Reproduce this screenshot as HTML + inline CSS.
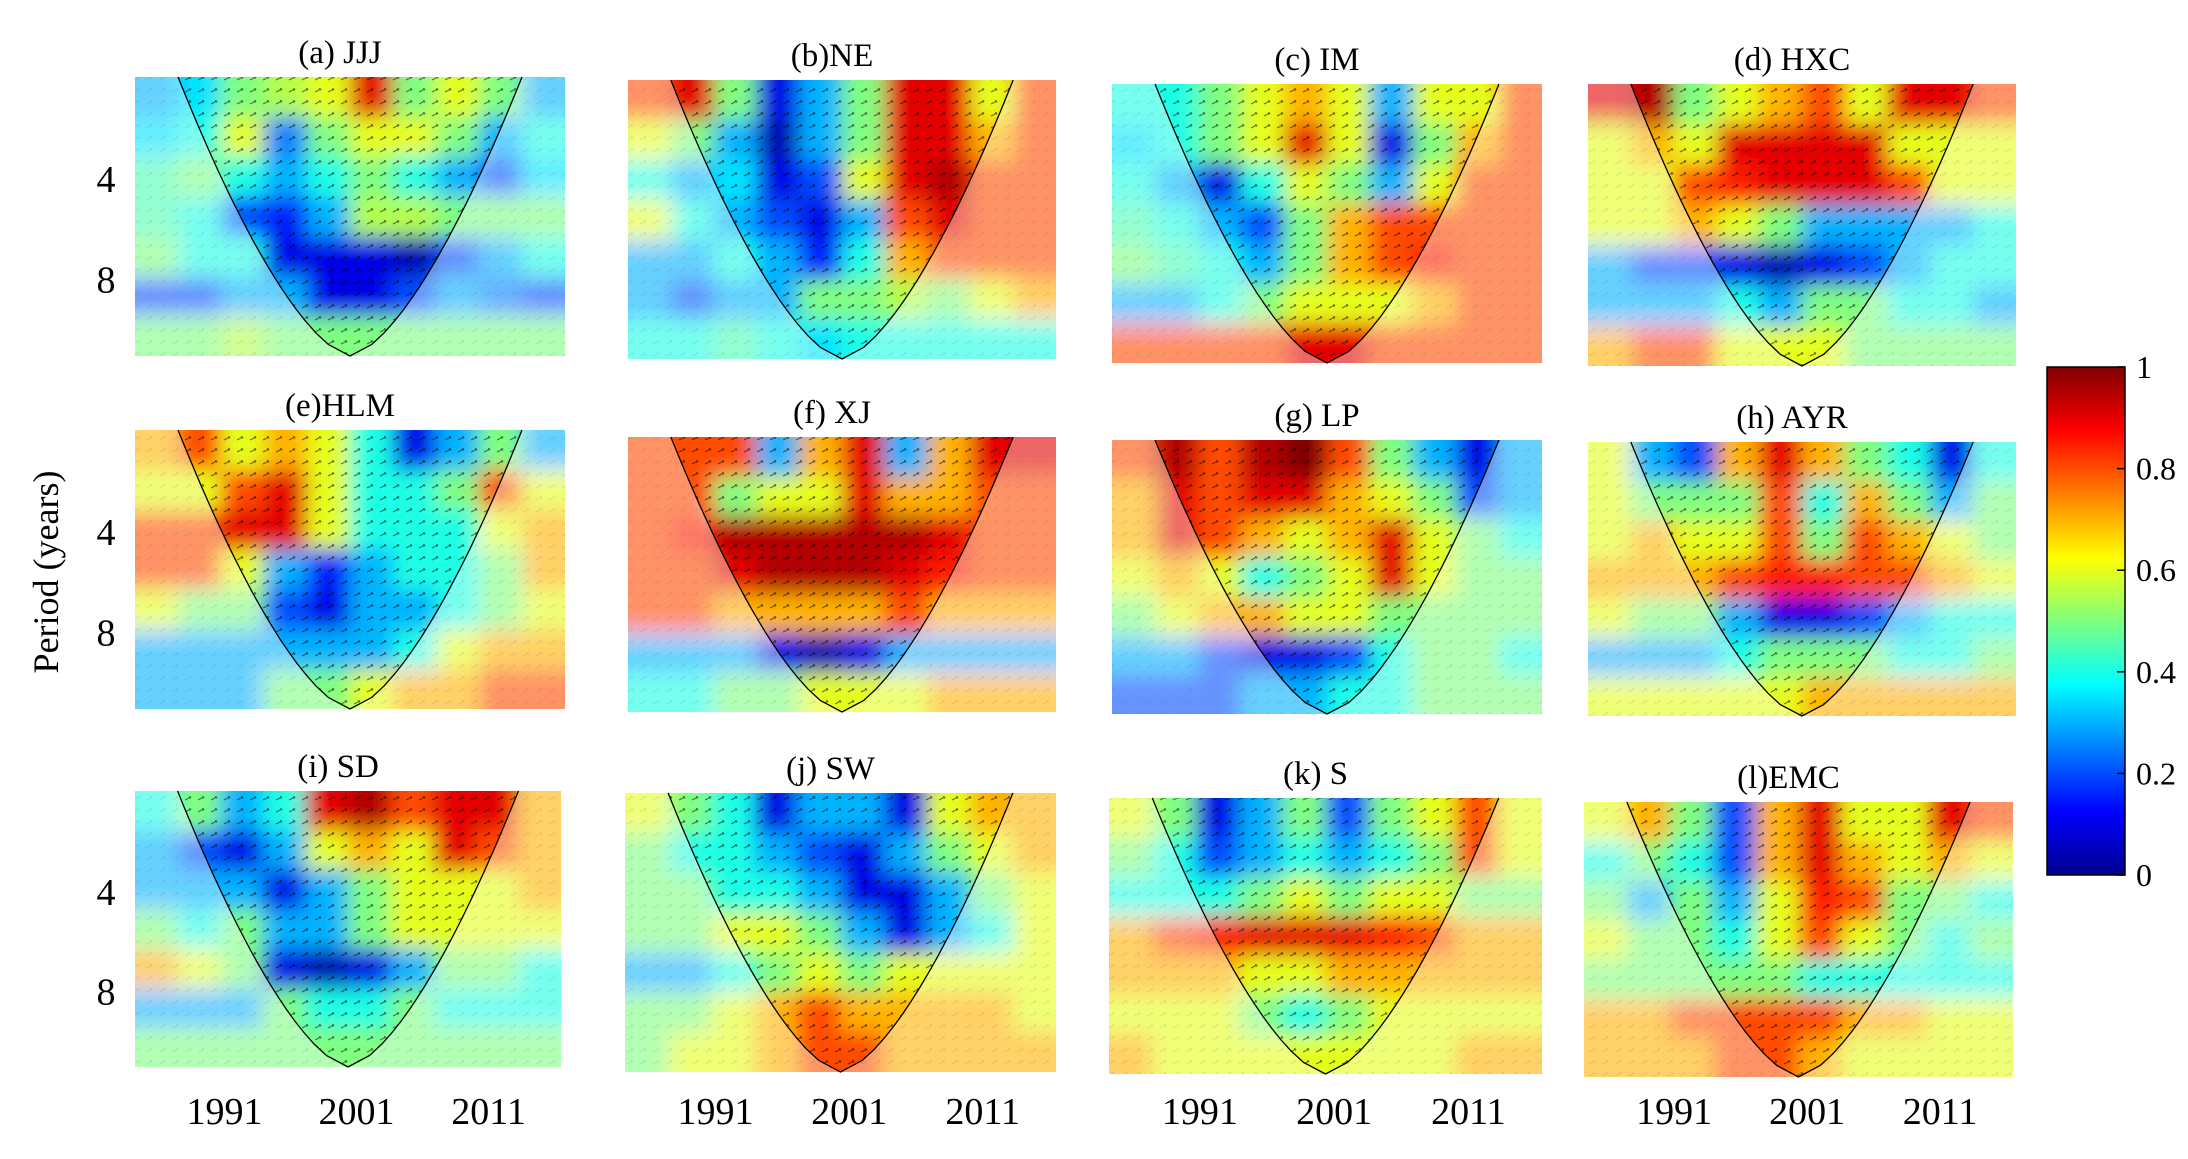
<!DOCTYPE html>
<html><head><meta charset="utf-8">
<style>
html,body{margin:0;padding:0;background:#fff;}
svg{display:block;font-family:"Liberation Serif",serif;}
</style></head>
<body>
<svg id="fig" width="2188" height="1159" viewBox="0 0 2188 1159" xmlns="http://www.w3.org/2000/svg">
<defs>
<filter id="blur" x="-20%" y="-20%" width="140%" height="140%"><feGaussianBlur stdDeviation="10"/></filter>
<pattern id="arrows" width="13" height="12" patternUnits="userSpaceOnUse">
<path d="M3,8 L9,5 M9,5 L7,4.6 M9,5 L8,6.6" stroke="#000" stroke-width="1.1" fill="none"/>
</pattern>
<linearGradient id="cbar" x1="0" y1="1" x2="0" y2="0">
<stop offset="0" stop-color="#00008f"/><stop offset="0.125" stop-color="#0000ff"/>
<stop offset="0.375" stop-color="#00ffff"/><stop offset="0.625" stop-color="#ffff00"/>
<stop offset="0.875" stop-color="#ff0000"/><stop offset="1" stop-color="#800000"/>
</linearGradient>
</defs>
</svg>
<script>
const titles=["(a) JJJ","(b)NE","(c) IM","(d) HXC","(e)HLM","(f) XJ","(g) LP","(h) AYR","(i) SD","(j) SW","(k) S","(l)EMC"];
const xTickLabels=["1991","2001","2011"];
const yTickLabels=["4","8"];
const cbarTicks=[0,0.2,0.4,0.6,0.8,1];
const cohA=[[0.3,0.35,0.5,0.55,0.6,0.9,0.5,0.6,0.5,0.3],[0.35,0.4,0.6,0.25,0.5,0.6,0.6,0.5,0.3,0.4],[0.45,0.5,0.4,0.3,0.4,0.5,0.4,0.3,0.2,0.35],[0.45,0.4,0.2,0.15,0.3,0.55,0.55,0.5,0.5,0.5],[0.5,0.4,0.4,0.1,0.1,0.1,0.05,0.2,0.3,0.4],[0.2,0.2,0.3,0.3,0.1,0.1,0.2,0.3,0.25,0.2],[0.5,0.5,0.55,0.5,0.5,0.5,0.5,0.5,0.5,0.5]];
const cohB=[[0.8,0.9,0.5,0.1,0.3,0.5,0.9,0.9,0.6,0.8],[0.6,0.5,0.3,0.05,0.3,0.5,0.9,0.9,0.7,0.8],[0.4,0.3,0.35,0.1,0.2,0.6,0.9,0.95,0.8,0.8],[0.6,0.4,0.3,0.2,0.1,0.3,0.8,0.9,0.8,0.8],[0.3,0.3,0.4,0.3,0.15,0.4,0.7,0.8,0.8,0.8],[0.3,0.2,0.3,0.3,0.5,0.5,0.55,0.5,0.6,0.7],[0.4,0.4,0.45,0.4,0.35,0.4,0.4,0.4,0.4,0.4]];
const cohC=[[0.4,0.4,0.5,0.6,0.7,0.6,0.3,0.6,0.6,0.8],[0.35,0.4,0.5,0.6,0.9,0.6,0.1,0.5,0.7,0.8],[0.4,0.3,0.1,0.4,0.6,0.5,0.3,0.6,0.8,0.8],[0.45,0.4,0.3,0.2,0.5,0.7,0.8,0.8,0.8,0.8],[0.5,0.45,0.4,0.3,0.5,0.7,0.8,0.85,0.8,0.8],[0.3,0.3,0.4,0.5,0.6,0.6,0.6,0.7,0.8,0.8],[0.8,0.8,0.8,0.8,0.9,0.9,0.8,0.8,0.8,0.8]];
const cohD=[[0.9,0.95,0.5,0.6,0.7,0.8,0.6,0.9,0.9,0.8],[0.6,0.7,0.6,0.9,0.9,0.9,0.9,0.6,0.6,0.6],[0.6,0.6,0.8,0.85,0.9,0.9,0.9,0.8,0.6,0.6],[0.6,0.6,0.7,0.6,0.5,0.3,0.3,0.3,0.3,0.4],[0.3,0.2,0.2,0.1,0.05,0.1,0.2,0.3,0.4,0.4],[0.3,0.3,0.3,0.4,0.3,0.5,0.5,0.4,0.4,0.3],[0.7,0.8,0.8,0.6,0.6,0.6,0.5,0.5,0.5,0.5]];
const cohE=[[0.7,0.8,0.6,0.7,0.6,0.4,0.1,0.3,0.5,0.3],[0.6,0.6,0.8,0.9,0.6,0.4,0.4,0.5,0.8,0.6],[0.8,0.8,0.9,0.9,0.6,0.4,0.4,0.4,0.6,0.7],[0.8,0.8,0.6,0.3,0.15,0.3,0.4,0.4,0.5,0.7],[0.6,0.5,0.5,0.2,0.1,0.3,0.3,0.4,0.5,0.6],[0.3,0.3,0.3,0.3,0.3,0.3,0.4,0.6,0.7,0.7],[0.3,0.3,0.3,0.5,0.5,0.6,0.7,0.7,0.8,0.8]];
const cohF=[[0.8,0.8,0.8,0.3,0.7,0.9,0.3,0.7,0.9,0.9],[0.8,0.8,0.5,0.6,0.6,0.9,0.7,0.7,0.8,0.8],[0.8,0.85,0.95,0.95,0.95,0.95,0.95,0.9,0.8,0.8],[0.8,0.8,0.9,0.95,0.95,0.95,0.9,0.85,0.8,0.8],[0.8,0.8,0.7,0.7,0.7,0.7,0.8,0.7,0.7,0.7],[0.3,0.3,0.3,0.1,0.05,0.1,0.3,0.3,0.3,0.3],[0.4,0.4,0.5,0.5,0.6,0.6,0.6,0.7,0.7,0.7]];
const cohG=[[0.8,0.95,0.8,0.95,1.0,0.8,0.5,0.3,0.1,0.3],[0.7,0.9,0.8,0.9,0.9,0.7,0.6,0.5,0.2,0.3],[0.7,0.9,0.8,0.7,0.6,0.7,0.9,0.6,0.5,0.4],[0.6,0.7,0.6,0.4,0.5,0.6,0.9,0.6,0.5,0.5],[0.5,0.6,0.7,0.7,0.6,0.6,0.5,0.5,0.5,0.5],[0.3,0.3,0.2,0.1,0.1,0.2,0.4,0.5,0.5,0.4],[0.2,0.2,0.2,0.3,0.3,0.4,0.4,0.5,0.5,0.5]];
const cohH=[[0.6,0.3,0.2,0.7,0.9,0.7,0.5,0.4,0.1,0.4],[0.6,0.5,0.5,0.5,0.8,0.4,0.7,0.5,0.3,0.5],[0.6,0.7,0.6,0.6,0.8,0.5,0.8,0.7,0.6,0.5],[0.7,0.7,0.7,0.8,0.85,0.85,0.8,0.8,0.7,0.6],[0.6,0.5,0.5,0.3,0.1,0.1,0.2,0.3,0.4,0.4],[0.3,0.3,0.3,0.4,0.5,0.5,0.5,0.4,0.4,0.5],[0.6,0.6,0.6,0.6,0.6,0.7,0.7,0.7,0.7,0.7]];
const cohI=[[0.4,0.5,0.3,0.4,0.9,0.95,0.8,0.9,0.9,0.7],[0.3,0.2,0.1,0.3,0.6,0.7,0.6,0.9,0.8,0.7],[0.3,0.3,0.3,0.1,0.3,0.5,0.6,0.6,0.6,0.7],[0.5,0.4,0.5,0.3,0.3,0.5,0.6,0.6,0.6,0.6],[0.7,0.6,0.5,0.1,0.05,0.1,0.3,0.5,0.5,0.4],[0.3,0.3,0.3,0.5,0.4,0.4,0.5,0.4,0.4,0.4],[0.5,0.5,0.5,0.5,0.5,0.5,0.5,0.5,0.5,0.5]];
const cohJ=[[0.6,0.5,0.4,0.1,0.3,0.3,0.1,0.6,0.7,0.7],[0.5,0.4,0.4,0.3,0.2,0.1,0.3,0.5,0.6,0.7],[0.5,0.5,0.4,0.4,0.3,0.1,0.1,0.3,0.5,0.6],[0.5,0.5,0.6,0.6,0.5,0.3,0.1,0.3,0.4,0.6],[0.3,0.3,0.4,0.5,0.6,0.5,0.6,0.6,0.6,0.6],[0.5,0.5,0.6,0.7,0.8,0.7,0.7,0.7,0.7,0.6],[0.5,0.6,0.6,0.7,0.8,0.8,0.7,0.7,0.7,0.7]];
const cohK=[[0.6,0.5,0.1,0.3,0.5,0.2,0.5,0.6,0.8,0.6],[0.5,0.4,0.2,0.3,0.4,0.3,0.4,0.5,0.8,0.6],[0.4,0.4,0.4,0.5,0.6,0.5,0.6,0.6,0.5,0.5],[0.7,0.8,0.85,0.9,0.9,0.9,0.85,0.8,0.7,0.7],[0.7,0.7,0.7,0.6,0.6,0.7,0.7,0.7,0.7,0.7],[0.6,0.6,0.6,0.5,0.4,0.5,0.6,0.6,0.6,0.6],[0.7,0.6,0.6,0.6,0.6,0.6,0.6,0.6,0.7,0.7]];
const cohL=[[0.6,0.7,0.5,0.2,0.7,0.9,0.6,0.6,0.9,0.8],[0.4,0.5,0.4,0.2,0.7,0.9,0.7,0.6,0.7,0.6],[0.5,0.3,0.5,0.3,0.6,0.85,0.8,0.5,0.5,0.4],[0.6,0.5,0.5,0.4,0.6,0.8,0.6,0.5,0.4,0.5],[0.5,0.5,0.5,0.5,0.5,0.4,0.4,0.4,0.4,0.4],[0.7,0.7,0.8,0.8,0.8,0.8,0.7,0.7,0.6,0.6],[0.7,0.7,0.7,0.8,0.8,0.7,0.6,0.6,0.6,0.6]];
const panelData=[cohA,cohB,cohC,cohD,cohE,cohF,cohG,cohH,cohI,cohJ,cohK,cohL];
const boxes=[[135,77,430,279],[628,80,428,279],[1112,84,430,279],[1588,84,428,282],
[135,430,430,279],[628,437,428,275],[1112,440,430,274],[1588,442,428,274],
[135,791,426,276],[625,793,431,279],[1109,798,433,276],[1584,802,429,275]];
const NS="http://www.w3.org/2000/svg";
const svg=document.getElementById('fig');
function mk(tag,attrs,parent){const e=document.createElementNS(NS,tag);for(const k in attrs)e.setAttribute(k,attrs[k]);(parent||svg).appendChild(e);return e;}
function cl(v){return Math.max(0,Math.min(1,v));}
function jet(v){const r=cl(1.5-Math.abs(4*v-3)),g=cl(1.5-Math.abs(4*v-2)),b=cl(1.5-Math.abs(4*v-1));return `rgb(${Math.round(r*255)},${Math.round(g*255)},${Math.round(b*255)})`;}
function coneOff(w,t){return 0.4*w*Math.pow(1-t,0.65);}
boxes.forEach((b,p)=>{
  const [x,y,w,h]=b;const data=panelData[p];
  const g=mk('g',{});
  
  
  const cid='clip'+p;
  const cp=mk('clipPath',{id:cid},g);mk('rect',{x:x,y:y,width:w,height:h},cp);
  const inner=mk('g',{'clip-path':`url(#${cid})`},g);
  const hm=mk('g',{filter:'url(#blur)'},inner);
  const nr=data.length,nc=data[0].length;const cw=w/nc,ch=h/nr;
  data.forEach((row,r)=>row.forEach((v,c)=>{
    let rx=x+c*cw,ry=y+r*ch,rw=cw+1,rh=ch+1;
    if(c===0){rx-=40;rw+=40;} if(c===nc-1){rw+=40;}
    if(r===0){ry-=40;rh+=40;} if(r===nr-1){rh+=40;}
    const cell=mk('rect',{x:rx,y:ry,width:rw,height:rh,fill:jet(v)},hm);
    
    
  }));
  const pts=[];for(let i=0;i<=24;i++){const t=i/24;pts.push([x+w/2-coneOff(w,t),y+t*h]);}
  for(let i=24;i>=0;i--){const t=i/24;pts.push([x+w/2+coneOff(w,t),y+t*h]);}
  const coneD='M'+pts.map(q=>q[0].toFixed(1)+','+q[1].toFixed(1)).join(' L')+' Z';
  mk('rect',{x:x,y:y,width:w,height:h,fill:'url(#arrows)',opacity:0.15},inner);
  const ccp=mk('clipPath',{id:'cone'+p},g);mk('path',{d:coneD},ccp);
  mk('rect',{x:x,y:y,width:w,height:h,fill:'url(#arrows)',opacity:0.45,'clip-path':`url(#cone${p})`},inner);
  const mask=mk('path',{d:`M${x},${y} h${w} v${h} h${-w} Z ${coneD}`,'fill-rule':'evenodd',fill:'#fff',opacity:0.4},inner);
  
  
  const coi=mk('path',{d:'M'+pts.map(q=>q[0].toFixed(1)+','+q[1].toFixed(1)).join(' L'),fill:'none',stroke:'#000','stroke-width':1.3},g);
  
  
  const t=mk('text',{x:x+w/2-10,y:y-14,'text-anchor':'middle','font-size':33},svg);
  t.textContent=titles[p];
  
  
  if(p%4===0){yTickLabels.forEach((lab,i)=>{const yt=mk('text',{x:106,y:y+h*(i===0?0.37:0.73)+12,'text-anchor':'middle','font-size':38});yt.textContent=lab;
    
    });}
  if(p>=8){xTickLabels.forEach((lab,i)=>{const xt=mk('text',{x:x+w*(0.21+0.31*i),y:1124,'text-anchor':'middle','font-size':38});xt.textContent=lab;
    
    });}
});
const yl=mk('text',{x:0,y:0,transform:'translate(58,572) rotate(-90)','text-anchor':'middle','font-size':36});
yl.textContent='Period (years)';


const cb=mk('rect',{x:2047,y:367,width:78,height:508,fill:'url(#cbar)',stroke:'#000','stroke-width':1.5});


cbarTicks.forEach(v=>{const yy=875-v*508;
  mk('line',{x1:2117,x2:2125,y1:yy,y2:yy,stroke:'#000','stroke-width':1.5});
  const tt=mk('text',{x:2136,y:yy+11,'font-size':32});tt.textContent=String(v);
  
  });
</script>
</body></html>
